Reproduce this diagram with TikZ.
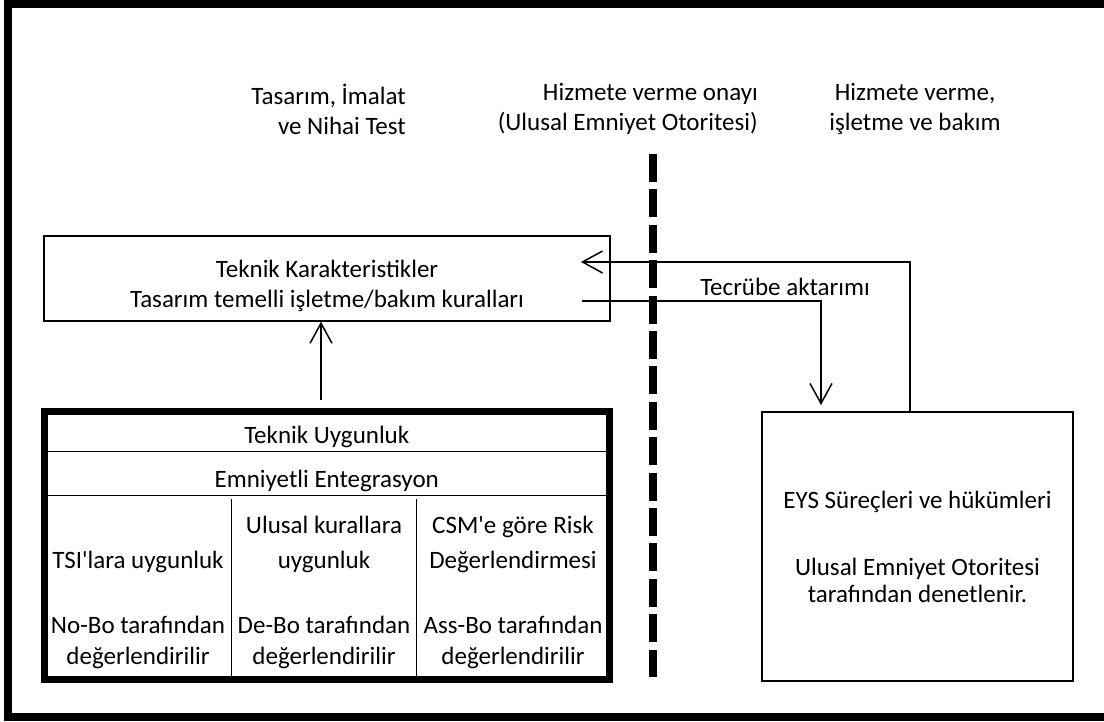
\documentclass[tikz,border=0pt]{standalone}
\usepackage{fontspec}
\setmainfont{Carlito}
\usetikzlibrary{arrows.meta}
% straight apostrophe, kept out of the TeX ligature mapping
\newcommand\apos{\XeTeXglyph\XeTeXcharglyph"27\relax}

\begin{document}
\begin{tikzpicture}[x=1pt,y=1pt,
        txt/.style={font=\fontsize{25}{30}\selectfont, inner sep=0pt, align=center},
        box/.style={draw, line width=1.5pt},
        arr/.style={line width=1.5pt, -{Straight Barb[length=20pt,width=22pt]}}]
    \useasboundingbox (0,0) rectangle (1104,721);
    % frame, open on the right
    \draw[line width=8pt] (1104,717) -- (8,717) -- (8,4) -- (1104,4);
    % phase headings
    \node[txt, align=right, anchor=east] (design) at (406,612) {Tasarım, İmalat\\ve Nihai Test};
    \node[txt, align=right, anchor=east] (approval) at (758,612) {Hizmete verme onayı\\(Ulusal Emniyet Otoritesi)};
    \node[txt] (operation) at (915,612) {Hizmete verme,\\işletme ve bakım};
    % divider
    \draw[line width=8pt, dash pattern=on 28pt off 7.4pt] (653,567) -- (653,44);
    % technical characteristics
    \node[box, minimum width=566pt, minimum height=85pt] (tech) at (327,442.5) {};
    \node[txt] (techtxt) at (327,435) {Teknik Karakteristikler\\Tasarım temelli işletme/bakım kuralları};
    % conformity table
    \node[draw, line width=7pt, minimum width=564.5pt, minimum height=267pt] (conf) at (326.75,175.5) {};
    \draw[line width=1.5pt] ([yshift=-43pt]conf.north west) -- ([yshift=-43pt]conf.north east);
    \draw[line width=1.5pt] ([yshift=-87pt]conf.north west) -- ([yshift=-87pt]conf.north east);
    \coordinate (col1) at (231.3,222);
    \coordinate (col2) at (416.5,222);
    \draw[line width=1.5pt] (col1) -- (col1 |- conf.south);
    \draw[line width=1.5pt] (col2) -- (col2 |- conf.south);
    \node[txt] (tu) at (326.75,284) {Teknik Uygunluk};
    \node[txt] (ee) at (326.75,240) {Emniyetli Entegrasyon};
    \node[txt] (tsi) at (138,159) {TSI\apos lara uygunluk};
    \node[txt] (ulk) at (324,176.5) {Ulusal kurallara\\[5pt]uygunluk};
    \node[txt] (csm) at (513,176.5) {CSM\apos e göre Risk\\[5pt]Değerlendirmesi};
    \node[txt] (nobo) at (138,78.5) {No-Bo tarafından\\[1pt]değerlendirilir};
    \node[txt] (debo) at (324,78.5) {De-Bo tarafından\\[1pt]değerlendirilir};
    \node[txt] (assbo) at (513,78.5) {Ass-Bo tarafından\\[1pt]değerlendirilir};
    % safety management system
    \node[txt, box, minimum width=311pt, minimum height=269pt] (sms) at (917.5,174.5)
        {EYS Süreçleri ve hükümleri\\[37pt]Ulusal Emniyet Otoritesi\\[-3pt]tarafından denetlenir.};
    % connectors
    \coordinate (upfoot) at (321,321);
    \draw[arr] (upfoot) -- (upfoot |- tech.south);
    \coordinate (fbtip) at (581,459);
    \draw[arr] ([xshift=-7.5pt]sms.north) |- (fbtip);
    \coordinate (xfstart) at (582,420);
    \coordinate (xftip) at (821,316);
    \draw[arr] (xfstart) -| (xftip);
    \node[txt] (xfer) at (785,434) {Tecrübe aktarımı};
\end{tikzpicture}
\end{document}
